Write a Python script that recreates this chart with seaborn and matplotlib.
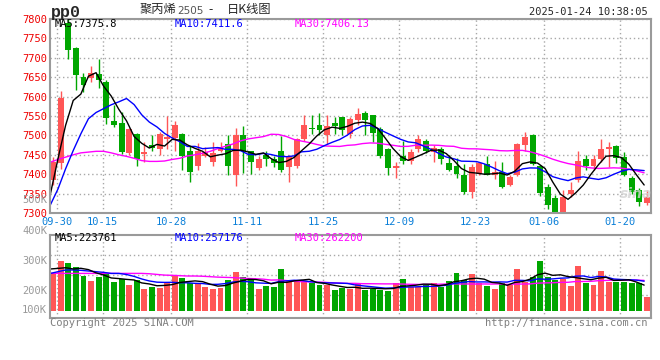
import numpy as np
import pandas as pd
import matplotlib
matplotlib.use("Agg")
import matplotlib.pyplot as plt
import seaborn as sns

# daily K line of pp0 (聚丙烯2505), 2024-09-30 .. 2025-01-24
date_idx = [0, 6, 15, 25, 35, 45, 55, 64, 74]
date_labels = ["09-30", "10-15", "10-28", "11-11", "11-25", "12-09", "12-23", "01-06", "01-20"]

opens = [7384, 7430, 7790, 7724, 7651, 7647, 7657, 7638, 7536, 7533,
         7455, 7503, 7453, 7476, 7464, 7490, 7493, 7503, 7461, 7422,
         7448, 7431, 7461, 7478, 7398, 7500, 7459, 7416, 7450, 7440,
         7459, 7418, 7421, 7490, 7520, 7528, 7500, 7532, 7547, 7504,
         7539, 7559, 7552, 7517, 7464, 7416, 7448, 7434, 7464, 7485,
         7457, 7466, 7428, 7421, 7399, 7355, 7401, 7427, 7398, 7405,
         7372, 7398, 7476, 7502, 7422, 7366, 7338, 7303, 7349, 7386,
         7438, 7422, 7438, 7466, 7472, 7444, 7390, 7358, 7326]
highs = [7444, 7614, 7800, 7728, 7662, 7679, 7698, 7642, 7578, 7560,
         7518, 7505, 7483, 7502, 7509, 7549, 7538, 7507, 7472, 7480,
         7470, 7483, 7483, 7500, 7519, 7523, 7461, 7448, 7461, 7448,
         7498, 7450, 7493, 7553, 7553, 7559, 7552, 7547, 7547, 7547,
         7571, 7562, 7552, 7522, 7467, 7431, 7485, 7466, 7500, 7490,
         7474, 7470, 7450, 7441, 7427, 7427, 7431, 7448, 7433, 7431,
         7398, 7480, 7509, 7504, 7425, 7375, 7347, 7358, 7379, 7459,
         7450, 7450, 7491, 7484, 7476, 7457, 7395, 7364, 7358]
lows = [7371, 7414, 7698, 7616, 7612, 7638, 7621, 7530, 7522, 7453,
        7450, 7422, 7431, 7461, 7450, 7466, 7459, 7412, 7379, 7412,
        7444, 7421, 7457, 7398, 7369, 7403, 7401, 7412, 7422, 7418,
        7405, 7379, 7416, 7485, 7504, 7500, 7478, 7504, 7500, 7493,
        7526, 7500, 7483, 7441, 7398, 7390, 7427, 7427, 7457, 7455,
        7431, 7427, 7407, 7390, 7349, 7338, 7397, 7397, 7388, 7364,
        7369, 7395, 7461, 7424, 7345, 7310, 7300, 7303, 7341, 7381,
        7412, 7410, 7431, 7418, 7429, 7395, 7349, 7317, 7321]
closes = [7431, 7597, 7720, 7655, 7629, 7662, 7642, 7545, 7528, 7457,
          7516, 7440, 7457, 7467, 7504, 7495, 7526, 7448, 7405, 7459,
          7457, 7455, 7470, 7422, 7502, 7461, 7431, 7440, 7440, 7429,
          7410, 7446, 7490, 7528, 7516, 7513, 7525, 7524, 7513, 7541,
          7554, 7539, 7507, 7448, 7416, 7422, 7435, 7457, 7490, 7459,
          7467, 7438, 7412, 7401, 7355, 7418, 7428, 7398, 7405, 7366,
          7392, 7477, 7496, 7427, 7351, 7321, 7303, 7341, 7360, 7434,
          7422, 7440, 7466, 7470, 7441, 7398, 7353, 7328, 7341]
# volume, thousand lots
volumes = [323, 440, 422, 387, 308, 264, 299, 326, 257, 281,
           229, 273, 196, 211, 202, 244, 308, 290, 249, 234,
           211, 196, 205, 275, 343, 299, 273, 194, 220, 211,
           370, 264, 258, 258, 244, 229, 230, 185, 200, 191,
           238, 185, 191, 185, 179, 249, 279, 214, 214, 226,
           244, 214, 264, 337, 273, 326, 244, 220, 194, 244,
           229, 370, 258, 299, 440, 299, 273, 282, 220, 396,
           249, 229, 352, 258, 258, 258, 249, 249, 126]

# moving averages at the left edge depend on days before the window
ma5_head = [7349, 7440, 7526, 7590]
ma10_head = [7321, 7362, 7414, 7461, 7504, 7543, 7559, 7569, 7579]
ma30_head = [7431, 7438, 7444, 7450, 7455, 7457, 7459, 7459, 7455, 7450,
             7446, 7441, 7435, 7433, 7433, 7434, 7438, 7441, 7447, 7450,
             7454, 7459, 7466, 7472, 7478, 7486, 7491, 7494, 7497]
vma5_head = [370, 375, 381, 370]
vma10_head = [331, 346, 361, 361, 358, 352, 346, 340, 331]
vma30_head = [331, 331, 331, 331, 331, 331, 331, 331, 331, 331,
              331, 331, 331, 328, 322, 316, 314, 311, 308, 308,
              306, 302, 298, 296, 294, 290, 286, 284, 280]

RED = "#ff5656"
GREEN = "#00a600"
GRID = "#a8a8a8"
FRAME = "#9a9a9a"
BLUE_TXT = "#0a7fd8"
MONO = ["DejaVu Sans Mono", "Noto Sans CJK SC"]
CJK = ["Noto Sans CJK SC", "DejaVu Sans"]

df = pd.DataFrame({"idx": np.arange(len(closes)), "open": opens, "high": highs,
                   "low": lows, "close": closes, "vol": volumes})
df["dir"] = np.where(df.close >= df.open, "up", "down")


def moving(s, n, head):
    m = s.rolling(n).mean()
    m.iloc[:len(head)] = head
    return m


df["ma5"] = moving(df.close, 5, ma5_head)
df["ma10"] = moving(df.close, 10, ma10_head)
df["ma30"] = moving(df.close, 30, ma30_head)
df["vma5"] = moving(df.vol, 5, vma5_head)
df["vma10"] = moving(df.vol, 10, vma10_head)
df["vma30"] = moving(df.vol, 30, vma30_head)
df["xl"] = df.idx - 0.35

sns.set_style("white")
plt.rcParams["font.family"] = MONO

W, H = 660, 360
fig = plt.figure(figsize=(W / 100, H / 100), dpi=100)


def fx(x):
    return x / W


def fy(y):
    return 1 - y / H


xlim = (-0.4, 78.55)
cols = df.dir.map({"up": RED, "down": GREEN})

# price panel
ax = fig.add_axes([fx(50), fy(213), fx(601), 194 / H])
ax.vlines(df.idx, df.low, df.high, colors=cols, lw=1)
body = (df.close - df.open).abs().clip(lower=1.5)
ax.bar(df.idx, body, bottom=df[["open", "close"]].min(axis=1), width=0.78,
       color=cols, linewidth=0)
sns.lineplot(data=df, x="xl", y="ma30", ax=ax, color="#ff00ff", lw=1, estimator=None)
sns.lineplot(data=df, x="xl", y="ma10", ax=ax, color="#0000ff", lw=1, estimator=None)
sns.lineplot(data=df, x="xl", y="ma5", ax=ax, color="black", lw=1, estimator=None)
ax.set_xlim(*xlim)
ax.set_ylim(7300, 7800)
ax.set_yticks(range(7300, 7801, 50))
ax.set_xticks(np.array(date_idx) + 0.5)
ax.set_xticklabels(date_labels)
ax.set_xlabel("")
ax.set_ylabel("")
ax.grid(True, color=GRID, ls=(0, (1, 2)), lw=1)
ax.tick_params(length=0, labelsize=7.5, pad=3)
ax.tick_params(axis="y", labelcolor="#ee0000", pad=2)
ax.tick_params(axis="x", labelcolor=BLUE_TXT, pad=3)
for sp in ax.spines.values():
    sp.set_color(FRAME)
    sp.set_linewidth(1.5)

# volume panel
vax = fig.add_axes([fx(50), fy(318), fx(601), 83 / H])
sns.barplot(data=df, x="idx", y="vol", hue="dir", palette={"up": RED, "down": GREEN},
            native_scale=True, width=0.78, dodge=False, legend=False, errorbar=None,
            saturation=1, linewidth=0, ax=vax)
sns.lineplot(data=df, x="xl", y="vma30", ax=vax, color="#ff00ff", lw=1, estimator=None)
sns.lineplot(data=df, x="xl", y="vma10", ax=vax, color="#0000ff", lw=1, estimator=None)
sns.lineplot(data=df, x="xl", y="vma5", ax=vax, color="black", lw=1, estimator=None)
vax.set_xlim(*xlim)
vax.set_ylim(-61.6, 669)
vax.set_yticks([141, 317, 493])
vax.set_yticklabels([])
vax.set_xticks(np.array(date_idx) + 0.5)
vax.set_xticklabels([])
vax.set_xlabel("")
vax.set_ylabel("")
vax.grid(True, color=GRID, ls=(0, (1, 2)), lw=1)
vax.tick_params(length=0)
for sp in vax.spines.values():
    sp.set_color(FRAME)
    sp.set_linewidth(1.5)

# volume scale labels as printed on the chart (500K spills over the price panel there too)
for lab, y in [("500K", 200), ("400K", 231), ("300K", 261), ("200K", 291), ("100K", 310)]:
    fig.text(fx(47), fy(y), lab, ha="right", va="center", color="#999999", fontsize=7.5)

# header
fig.text(fx(51), fy(12), "pp0", ha="left", va="center", fontsize=12, weight="bold",
         family=["Liberation Mono", "DejaVu Sans Mono"])
fig.text(fx(140), fy(10), "聚丙烯", ha="left", va="center", fontsize=8.8, family=CJK)
fig.text(fx(177), fy(11), "2505", ha="left", va="center", fontsize=7.5, color="#555555",
         family=["DejaVu Sans", "Noto Sans CJK SC"])
fig.text(fx(208), fy(10), "-", ha="left", va="center", fontsize=8.8, family=CJK)
fig.text(fx(227), fy(10), "日K线图", ha="left", va="center", fontsize=8.8, family=CJK)
fig.text(fx(648), fy(12), "2025-01-24 10:38:05", ha="right", va="center", fontsize=7.5)

# moving average readouts
last = df.iloc[-1]
fig.text(fx(55), fy(24), "MA5:7375.8", ha="left", va="center", fontsize=7.5, color="black")
fig.text(fx(175), fy(24), "MA10:7411.6", ha="left", va="center", fontsize=7.5, color="#0000ff")
fig.text(fx(295), fy(24), "MA30:7406.13", ha="left", va="center", fontsize=7.5, color="#ff00ff")
fig.text(fx(55), fy(238), "MA5:223761", ha="left", va="center", fontsize=7.5, color="black")
fig.text(fx(175), fy(238), "MA10:257176", ha="left", va="center", fontsize=7.5, color="#0000ff")
fig.text(fx(295), fy(238), "MA30:262200", ha="left", va="center", fontsize=7.5, color="#ff00ff")
print("computed MA:", round(last.ma5, 1), round(last.ma10, 1), round(last.ma30, 2),
      round(last.vma5, 1), round(last.vma10, 1), round(last.vma30, 1))

# watermark and footer
fig.text(fx(636), fy(194), "sina", ha="center", va="center", fontsize=10, style="italic",
         weight="bold", color="#d4d4d4", alpha=0.8, family=["DejaVu Sans"])
fig.text(fx(50), fy(323), "Copyright 2025 SINA.COM", ha="left", va="center",
         fontsize=7.5, color="#808080")
fig.text(fx(648), fy(323), "http://finance.sina.com.cn", ha="right", va="center",
         fontsize=7.5, color="#808080")

fig.savefig("out.png", dpi=100, facecolor="white")
